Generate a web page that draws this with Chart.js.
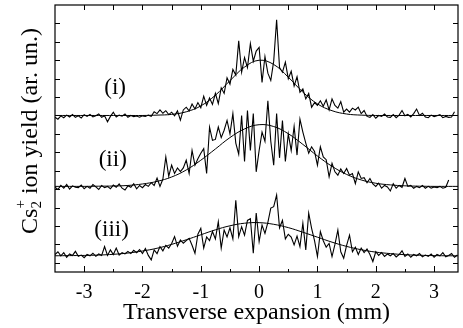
<!DOCTYPE html>
<html>
<head>
<meta charset="utf-8">
<script src="https://cdn.jsdelivr.net/npm/chart.js@4.4.1/dist/chart.umd.min.js"></script>
<style>
  html, body { margin: 0; padding: 0; background: #fff; }
  canvas { display: block; }
</style>
</head>
<body>
<canvas id="yield-chart" width="463" height="328"></canvas>
<script>
// raw traces are sampled every 0.05 mm starting at -3.5 mm
const traceStart = -3.5;
const traceStep = 0.05;

const traceI = [
  7.90, 7.80, 7.98, 7.88, 8.02, 7.92, 8.05, 7.90, 7.98, 7.86,
  8.04, 7.95, 8.06, 7.92, 7.99, 8.08, 7.90, 7.98, 7.66, 7.95,
  8.18, 7.92, 8.02, 7.96, 8.08, 7.90, 8.00, 7.94, 7.97, 7.91,
  7.98, 7.95, 8.02, 7.96, 8.20, 8.10, 8.30, 8.12, 8.26, 8.05,
  8.18, 7.98, 8.25, 7.75, 8.30, 8.45, 8.25, 8.62, 8.35, 8.70,
  8.42, 9.05, 8.55, 8.95, 8.60, 9.20, 8.65, 9.50, 9.20, 10.05,
  9.70, 10.50, 10.20, 12.05, 10.35, 11.15, 10.60, 11.90, 10.95, 11.50,
  11.70, 9.80, 11.20, 10.30, 9.90, 10.95, 13.20, 10.60, 10.35, 10.90,
  10.00, 10.40, 9.60, 10.10, 9.26, 9.45, 8.90, 9.20, 8.45, 8.70,
  8.55, 8.80, 8.50, 8.85, 8.30, 8.90, 8.55, 8.40, 8.75, 8.18,
  8.35, 8.18, 8.40, 8.30, 8.45, 8.10, 8.27, 7.95, 7.90, 8.05,
  7.85, 8.00, 7.95, 8.08, 7.92, 7.90, 8.05, 7.88, 8.02, 8.27,
  7.98, 8.06, 7.92, 8.10, 8.35, 8.00, 8.12, 7.92, 7.88, 8.02,
  7.93, 7.98, 8.05, 7.88, 7.95, 7.90, 7.92, 8.20
];

const traceII = [
  4.10, 3.98, 4.20, 4.05, 4.25, 4.00, 4.18, 4.10, 4.08, 4.22,
  4.02, 4.15, 4.05, 4.25, 4.12, 3.98, 4.20, 4.08, 4.15, 4.02,
  4.22, 4.10, 4.28, 4.05, 3.95, 4.18, 4.10, 4.30, 4.02, 4.20,
  4.08, 4.25, 4.15, 4.35, 4.20, 4.60, 4.15, 4.55, 5.75, 4.70,
  5.30, 4.85, 5.15, 4.95, 5.15, 5.57, 4.85, 6.10, 5.30, 5.65,
  5.95, 6.20, 4.85, 7.37, 6.65, 6.70, 7.37, 6.80, 7.20, 7.73,
  7.00, 8.10, 6.50, 5.90, 8.00, 5.50, 8.27, 6.10, 8.10, 4.94,
  6.10, 7.10, 6.60, 8.80, 6.60, 5.30, 8.10, 5.70, 7.73, 5.50,
  7.00, 6.10, 7.40, 5.85, 7.80, 7.10, 6.50, 5.95, 6.30, 6.05,
  5.30, 6.30, 5.75, 5.60, 4.67, 5.40, 4.94, 4.76, 5.10, 4.85,
  5.12, 4.76, 4.85, 4.30, 4.94, 4.58, 4.62, 4.35, 4.58, 4.28,
  4.15, 4.32, 4.05, 4.20, 4.12, 3.90, 4.30, 4.05, 4.20, 4.10,
  4.58, 4.15, 4.20, 4.05, 4.15, 4.08, 4.20, 4.05, 4.15, 4.05,
  4.12, 4.08, 4.15, 4.05, 4.10, 4.50
];

const traceIII = [
  0.45, 0.60, 0.38, 0.55, 0.30, 0.48, 0.40, 0.62, 0.35, 0.42,
  0.28, 0.45, 0.38, 0.52, 0.35, 0.48, 0.40, 0.88, 0.40, 0.70,
  0.45, 0.80, 0.42, 0.55, 0.48, 0.62, 0.50, 0.68, 0.55, 0.72,
  0.50, 0.78, 0.40, 0.16, 0.70, 0.50, 0.88, 0.65, 0.95, 0.80,
  1.05, 1.42, 0.90, 1.24, 1.06, 1.20, 1.33, 0.95, 0.52, 1.55,
  1.87, 0.80, 1.40, 1.20, 1.70, 1.30, 2.23, 0.80, 1.78, 1.40,
  1.90, 1.30, 3.40, 1.42, 1.96, 1.50, 2.30, 2.40, 0.52, 2.70,
  1.15, 2.05, 1.60, 2.20, 2.97, 3.05, 3.68, 1.90, 2.30, 1.30,
  1.55, 1.40, 0.97, 1.45, 0.88, 2.15, 0.70, 2.70, 1.87, 1.20,
  0.34, 1.70, 1.20, 0.85, 1.05, 0.34, 1.00, 1.78, 0.60, 0.25,
  0.95, 1.50, 0.60, 0.85, 0.45, 0.80, 0.55, 0.75, 0.45, 0.07,
  0.60, 0.40, 0.55, 0.35, 0.48, 0.38, 0.50, 0.32, 0.45, 0.65,
  0.35, 0.48, 0.30, 0.45, 0.38, 0.50, 0.32, 0.42, 0.35, 0.48,
  0.30, 0.45, 0.38, 0.55, 0.32, 0.40, 0.50, 0.30, 0.42
];

// gaussian fits, sampled every 0.25 mm from -3.5 mm
const fitStart = -3.5;
const fitStep = 0.25;

const fitI = [
  8.00, 8.00, 8.00, 8.00, 8.00, 8.00, 8.00, 8.02, 8.06, 8.20,
  8.52, 9.10, 9.89, 10.63, 11.00, 10.77, 10.08, 9.27, 8.63, 8.26,
  8.08, 8.02, 8.00, 8.00, 8.00, 8.00, 8.00, 8.00, 8.00
];

const fitII = [
  4.15, 4.15, 4.15, 4.16, 4.17, 4.20, 4.28, 4.42, 4.66, 5.04,
  5.57, 6.18, 6.80, 7.27, 7.50, 7.40, 7.01, 6.43, 5.80, 5.24,
  4.80, 4.50, 4.32, 4.23, 4.18, 4.16, 4.15, 4.15, 4.15
];

const fitIII = [
  0.38, 0.39, 0.40, 0.42, 0.46, 0.53, 0.64, 0.79, 1.00, 1.25,
  1.52, 1.79, 2.01, 2.15, 2.18, 2.09, 1.91, 1.66, 1.39, 1.12,
  0.89, 0.71, 0.58, 0.50, 0.44, 0.41, 0.39, 0.38, 0.38
];

const traceLabels = ['(i)', '(ii)', '(iii)'];
const xTickValues = [-3, -2, -1, 0, 1, 2, 3];
const xMinorTicks = [-2.5, -1.5, -0.5, 0.5, 1.5, 2.5];
const yTickValues = [0, 1, 2, 3, 4, 5, 6, 7, 8, 9, 10, 11, 12, 13];

const serif = "'Liberation Serif', 'Times New Roman', serif";

function toPoints(values, start, step) {
  return values.map((v, i) => ({ x: start + i * step, y: v }));
}

function traceSet(values) {
  return {
    data: toPoints(values, traceStart, traceStep),
    borderColor: '#000',
    borderWidth: 1.1,
    pointRadius: 0,
    tension: 0,
  };
}

function fitSet(values) {
  return {
    data: toPoints(values, fitStart, fitStep),
    borderColor: '#000',
    borderWidth: 1,
    pointRadius: 0,
    tension: 0.4,
  };
}

// frame, inward ticks, trace labels and the y title
const framePlugin = {
  id: 'frame',
  afterDatasetsDraw(chart) {
    const { ctx, chartArea: a, scales } = chart;
    const xs = scales.x;
    const ys = scales.y;
    ctx.save();
    ctx.strokeStyle = '#000';
    ctx.lineWidth = 1.2;
    ctx.strokeRect(a.left, a.top, a.right - a.left, a.bottom - a.top);

    ctx.lineWidth = 1;
    ctx.beginPath();
    xTickValues.forEach(v => {
      const px = Math.round(xs.getPixelForValue(v)) + 0.5;
      ctx.moveTo(px, a.bottom); ctx.lineTo(px, a.bottom - 6);
      ctx.moveTo(px, a.top); ctx.lineTo(px, a.top + 5);
    });
    xMinorTicks.forEach(v => {
      const px = Math.round(xs.getPixelForValue(v)) + 0.5;
      ctx.moveTo(px, a.bottom); ctx.lineTo(px, a.bottom - 3);
      ctx.moveTo(px, a.top); ctx.lineTo(px, a.top + 5);
    });
    yTickValues.forEach(v => {
      const py = Math.round(ys.getPixelForValue(v)) + 0.5;
      ctx.moveTo(a.left, py); ctx.lineTo(a.left + 5, py);
      ctx.moveTo(a.right, py); ctx.lineTo(a.right - 5, py);
    });
    ctx.stroke();

    // trace labels
    const labelSpots = [[-2.47, 9.5], [-2.51, 5.57], [-2.53, 1.78]];
    ctx.fillStyle = '#000';
    ctx.font = '23px ' + serif;
    ctx.textAlign = 'center';
    ctx.textBaseline = 'middle';
    traceLabels.forEach((t, i) => {
      ctx.fillText(t, xs.getPixelForValue(labelSpots[i][0]), ys.getPixelForValue(labelSpots[i][1]));
    });

    // y title: Cs with stacked 2 and +
    const big = '24px ' + serif;
    const small = '15px ' + serif;
    ctx.font = big;
    const wCs = ctx.measureText('Cs').width;
    const rest = ' ion yield (ar. un.)';
    const wRest = ctx.measureText(rest).width;
    ctx.font = small;
    const wSub = Math.max(ctx.measureText('2').width, ctx.measureText('+').width);
    const total = wCs + wSub + wRest;
    ctx.translate(37, 131);
    ctx.rotate(-Math.PI / 2);
    ctx.textAlign = 'left';
    ctx.textBaseline = 'alphabetic';
    let x = -total / 2;
    ctx.font = big;
    ctx.fillText('Cs', x, 0);
    x += wCs;
    ctx.font = small;
    ctx.fillText('2', x, 4);
    ctx.fillText('+', x, -12);
    x += wSub;
    ctx.font = big;
    ctx.fillText(rest, x, 0);
    ctx.restore();
  },
};

new Chart(document.getElementById('yield-chart'), {
  type: 'line',
  data: {
    datasets: [
      traceSet(traceI), fitSet(fitI),
      traceSet(traceII), fitSet(fitII),
      traceSet(traceIII), fitSet(fitIII),
    ],
  },
  options: {
    responsive: false,
    animation: false,
    devicePixelRatio: 1,
    layout: { padding: { left: 55, right: 5, top: 5, bottom: 0 } },
    plugins: { legend: { display: false }, tooltip: { enabled: false } },
    scales: {
      x: {
        type: 'linear',
        min: -3.5,
        max: 3.41,
        grid: { display: false },
        border: { display: false },
        afterBuildTicks: (scale) => {
          scale.ticks = xTickValues.map(v => ({ value: v }));
        },
        afterFit: (scale) => { scale.height = 56; },
        ticks: {
          color: '#000',
          padding: 1,
          font: { family: serif, size: 20 },
          callback: (v) => String(v),
        },
        title: {
          display: true,
          text: 'Transverse expansion (mm)',
          color: '#000',
          font: { family: serif, size: 24 },
          padding: { top: 0, bottom: 1 },
        },
      },
      y: {
        type: 'linear',
        min: -0.5,
        max: 14,
        display: false,
      },
    },
  },
  plugins: [framePlugin],
});
</script>
</body>
</html>
